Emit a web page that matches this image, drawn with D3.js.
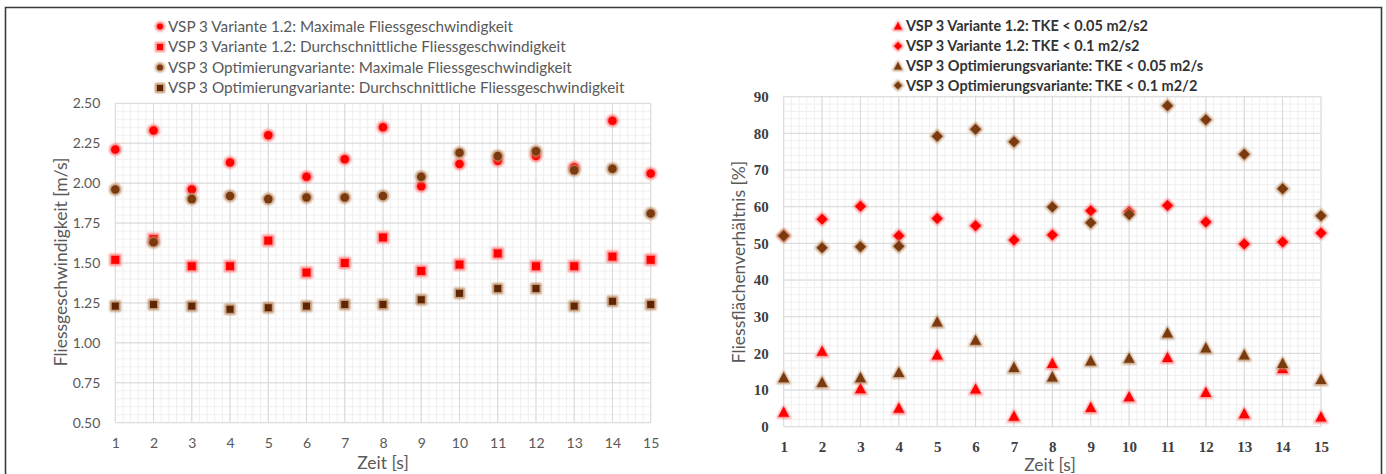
<!DOCTYPE html>
<html>
<head>
<meta charset="utf-8">
<script src="https://cdn.jsdelivr.net/npm/d3@7"></script>
<style>
  html, body { margin: 0; padding: 0; background: #fff; }
  svg { display: block; }
</style>
</head>
<body>
<svg id="chart" width="1386" height="474"></svg>
<script>
// Zeitschritte [s]
const zeit = [1, 2, 3, 4, 5, 6, 7, 8, 9, 10, 11, 12, 13, 14, 15];

// Fliessgeschwindigkeit [m/s]
const v12Max  = [2.21, 2.33, 1.96, 2.13, 2.30, 2.04, 2.15, 2.35, 1.98, 2.12, 2.14, 2.17, 2.10, 2.39, 2.06];
const v12Avg  = [1.52, 1.65, 1.48, 1.48, 1.64, 1.44, 1.50, 1.66, 1.45, 1.49, 1.56, 1.48, 1.48, 1.54, 1.52];
const optMax  = [1.96, 1.63, 1.90, 1.92, 1.90, 1.91, 1.91, 1.92, 2.04, 2.19, 2.17, 2.20, 2.08, 2.09, 1.81];
const optAvg  = [1.23, 1.24, 1.23, 1.21, 1.22, 1.23, 1.24, 1.24, 1.27, 1.31, 1.34, 1.34, 1.23, 1.26, 1.24];

// Fliessflächenverhältnis [%]
const v12Tke005 = [4.0, 20.6, 10.4, 5.1, 19.6, 10.3, 2.9, 17.3, 5.3, 8.2, 18.9, 9.4, 3.6, 15.9, 2.7];
const v12Tke01  = [52.1, 56.6, 60.1, 52.1, 56.8, 54.8, 50.9, 52.3, 58.9, 58.6, 60.3, 55.8, 49.8, 50.4, 52.8];
const optTke005 = [13.4, 12.1, 13.4, 14.8, 28.6, 23.6, 16.2, 13.6, 18.0, 18.7, 25.6, 21.5, 19.6, 17.3, 12.9];
const optTke01  = [52.1, 48.8, 49.1, 49.2, 79.2, 81.1, 77.7, 59.9, 55.6, 57.9, 87.5, 83.7, 74.3, 64.9, 57.5];

// Achsenbeschriftungen
const leftYTicks  = [0.50, 0.75, 1.00, 1.25, 1.50, 1.75, 2.00, 2.25, 2.50];
const rightYTicks = [0, 10, 20, 30, 40, 50, 60, 70, 80, 90];

const leftLegend = [
  "VSP 3 Variante 1.2: Maximale Fliessgeschwindigkeit",
  "VSP 3 Variante 1.2: Durchschnittliche Fliessgeschwindigkeit",
  "VSP 3 Optimierungvariante: Maximale Fliessgeschwindigkeit",
  "VSP 3 Optimierungvariante: Durchschnittliche Fliessgeschwindigkeit"
];
const rightLegend = [
  "VSP 3 Variante 1.2: TKE < 0.05 m2/s2",
  "VSP 3 Variante 1.2: TKE < 0.1 m2/s2",
  "VSP 3 Optimierungsvariante: TKE < 0.05 m2/s",
  "VSP 3 Optimierungsvariante: TKE < 0.1 m2/2"
];

const RED = { core: "#ff0000", glow: "#ff7070" };
const BROWN = { core: "#7a3a10", glow: "#b8865c" };
const BROWN_DARK = { core: "#5e2604", glow: "#b07a4e" };

const svg = d3.select("#chart");
const defs = svg.append("defs");
defs.append("filter").attr("id", "glow").attr("x", "-50%").attr("y", "-50%").attr("width", "200%").attr("height", "200%")
  .append("feGaussianBlur").attr("stdDeviation", 1.1);

// outer frame
svg.append("path")
  .attr("d", "M5.5,480 V7.5 H1381.5 V480")
  .attr("fill", "none").attr("stroke", "#3a3a3a").attr("stroke-width", 1.6);

// marker shapes, centred on 0,0
function shapePath(type, s) {
  const h = s / 2;
  if (type === "circle") return d3.symbol(d3.symbolCircle, Math.PI * h * h)();
  if (type === "square") return `M${-h},${-h}H${h}V${h}H${-h}Z`;
  if (type === "diamond") return `M0,${-h}L${h},0L0,${h}L${-h},0Z`;
  if (type === "triangle") return `M0,${-h}L${h},${h * 0.85}L${-h},${h * 0.85}Z`;
}

function drawMarker(g, type, col, x, y, size) {
  const m = g.append("g").attr("transform", `translate(${x},${y})`);
  m.append("path").attr("d", shapePath(type, size + 4)).attr("fill", col.glow)
    .attr("opacity", 0.85).attr("filter", "url(#glow)");
  m.append("path").attr("d", shapePath(type, size)).attr("fill", col.core);
}

function grid(g, x, y, xMinor, yMinor, xMajor, yMajor) {
  const [x0, x1] = x.range(), [y0, y1] = y.range();
  g.append("g").selectAll("line").data(xMinor).join("line")
    .attr("x1", d => x(d)).attr("x2", d => x(d)).attr("y1", y0).attr("y2", y1)
    .attr("stroke", "#efefef").attr("stroke-width", 1);
  g.append("g").selectAll("line").data(yMinor).join("line")
    .attr("y1", d => y(d)).attr("y2", d => y(d)).attr("x1", x0).attr("x2", x1)
    .attr("stroke", "#efefef").attr("stroke-width", 1);
  g.append("g").selectAll("line").data(xMajor).join("line")
    .attr("x1", d => x(d)).attr("x2", d => x(d)).attr("y1", y0).attr("y2", y1)
    .attr("stroke", "#d9d9d9").attr("stroke-width", 1);
  g.append("g").selectAll("line").data(yMajor).join("line")
    .attr("y1", d => y(d)).attr("y2", d => y(d)).attr("x1", x0).attr("x2", x1)
    .attr("stroke", "#d9d9d9").attr("stroke-width", 1);
}

function range(a, b, step) {
  const out = [];
  for (let v = a; v <= b + 1e-9; v += step) out.push(+v.toFixed(4));
  return out;
}

/* ---------- linkes Diagramm: Fliessgeschwindigkeit ---------- */
{
  const x = d3.scaleLinear().domain([1, 15]).range([115.3, 650.7]);
  const y = d3.scaleLinear().domain([0.5, 2.5]).range([422.7, 103.3]);
  const g = svg.append("g");
  grid(g, x, y, range(1, 15, 0.2), range(0.5, 2.5, 0.05), zeit, leftYTicks);

  const font = "Lato, 'Open Sans', sans-serif";
  const grey = "#595959";

  const yAxis = d3.axisLeft(y).tickValues(leftYTicks).tickFormat(d3.format(".2f")).tickSize(0).tickPadding(15);
  g.append("g").attr("transform", `translate(${x.range()[0]},0)`).call(yAxis)
    .call(a => a.select(".domain").remove())
    .selectAll("text").attr("font-family", font).attr("font-size", 14).attr("fill", grey);

  const xAxis = d3.axisBottom(x).tickValues(zeit).tickFormat(d3.format("d")).tickSize(0).tickPadding(15);
  g.append("g").attr("transform", `translate(0,${y.range()[0]})`).call(xAxis)
    .call(a => a.select(".domain").remove())
    .selectAll("text").attr("font-family", font).attr("font-size", 14).attr("fill", grey);

  g.append("text").attr("x", 383).attr("y", 469).attr("text-anchor", "middle")
    .attr("font-family", font).attr("font-size", 17.5).attr("fill", grey).text("Zeit [s]");
  g.append("text").attr("transform", `translate(67,262) rotate(-90)`).attr("text-anchor", "middle")
    .attr("font-family", font).attr("font-size", 17.5).attr("fill", grey).text("Fliessgeschwindigkeit [m/s]");

  const series = [
    { vals: v12Max, type: "circle", col: RED, size: 8.5 },
    { vals: v12Avg, type: "square", col: RED, size: 8 },
    { vals: optMax, type: "circle", col: BROWN, size: 8.5 },
    { vals: optAvg, type: "square", col: BROWN_DARK, size: 7 }
  ];
  series.forEach(s => {
    const sg = g.append("g");
    s.vals.forEach((v, i) => drawMarker(sg, s.type, s.col, x(zeit[i]), y(v), s.size));
  });

  const lg = g.append("g");
  const rows = [26.5, 47, 67.5, 88];
  series.forEach((s, i) => {
    drawMarker(lg, s.type, s.col, 160, rows[i], 6);
    lg.append("text").attr("x", 168).attr("y", rows[i]).attr("dy", "0.35em")
      .attr("font-family", font).attr("font-size", 15.3).attr("fill", grey).text(leftLegend[i]);
  });
}

/* ---------- rechtes Diagramm: Fliessflächenverhältnis ---------- */
{
  const x = d3.scaleLinear().domain([1, 15]).range([783.7, 1321]);
  const y = d3.scaleLinear().domain([0, 90]).range([426.7, 96.7]);
  const g = svg.append("g");
  grid(g, x, y, range(1, 15, 0.2), range(0, 90, 2), zeit, rightYTicks);

  const serif = "'Liberation Serif', 'Times New Roman', serif";
  const sans = "Lato, 'Open Sans', sans-serif";
  const dark = "#404040";

  const yAxis = d3.axisLeft(y).tickValues(rightYTicks).tickFormat(d3.format("d")).tickSize(0).tickPadding(15);
  g.append("g").attr("transform", `translate(${x.range()[0]},0)`).call(yAxis)
    .call(a => a.select(".domain").remove())
    .selectAll("text").attr("font-family", serif).attr("font-weight", "bold").attr("font-size", 15).attr("fill", dark);

  const xAxis = d3.axisBottom(x).tickValues(zeit).tickFormat(d3.format("d")).tickSize(0).tickPadding(15);
  g.append("g").attr("transform", `translate(0,${y.range()[0]})`).call(xAxis)
    .call(a => a.select(".domain").remove())
    .selectAll("text").attr("font-family", serif).attr("font-weight", "bold").attr("font-size", 15).attr("fill", dark);

  g.append("text").attr("x", 1050).attr("y", 471).attr("text-anchor", "middle")
    .attr("font-family", sans).attr("font-size", 17.5).attr("fill", "#595959").text("Zeit [s]");
  g.append("text").attr("transform", `translate(745,262) rotate(-90)`).attr("text-anchor", "middle")
    .attr("font-family", sans).attr("font-size", 17.5).attr("fill", "#595959").text("Fliessflächenverhältnis [%]");

  const series = [
    { vals: v12Tke005, type: "triangle", col: RED, size: 11 },
    { vals: v12Tke01,  type: "diamond",  col: RED, size: 11 },
    { vals: optTke005, type: "triangle", col: BROWN, size: 11 },
    { vals: optTke01,  type: "diamond",  col: BROWN, size: 11 }
  ];
  series.forEach(s => {
    const sg = g.append("g");
    s.vals.forEach((v, i) => drawMarker(sg, s.type, s.col, x(zeit[i]), y(v), s.size));
  });

  const lg = g.append("g");
  const rows = [26, 46, 66, 85.5];
  series.forEach((s, i) => {
    drawMarker(lg, s.type, s.col, 898, rows[i], 8);
    lg.append("text").attr("x", 906).attr("y", rows[i]).attr("dy", "0.35em")
      .attr("font-family", sans).attr("font-weight", "bold").attr("font-size", 14.5).attr("fill", "#333333").text(rightLegend[i]);
  });
}
</script>
</body>
</html>
